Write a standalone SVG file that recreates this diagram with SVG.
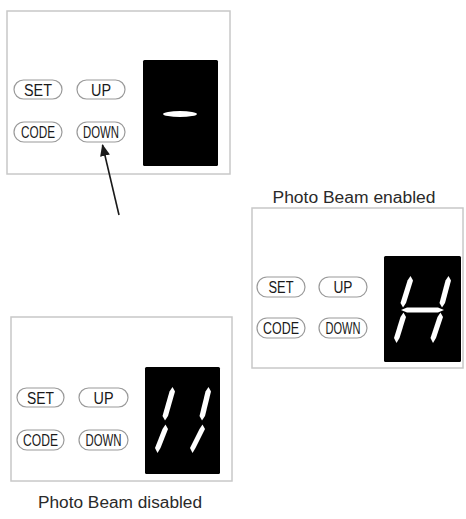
<svg xmlns="http://www.w3.org/2000/svg" width="466" height="519" viewBox="0 0 466 519">
<defs>
<style>
.panel{fill:#fff;stroke:#c8c8c8;stroke-width:1.5}
.lcd{fill:#000}
.btn{fill:#fff;stroke:#9a9a9a;stroke-width:1.2}
.bt{font-family:"Liberation Sans",Arial,sans-serif;font-size:16px;fill:#1a1a1a;text-anchor:middle}
.seg{fill:#fff}
.cap{font-family:"Liberation Sans",Arial,sans-serif;font-size:16px;fill:#2a2a2a;text-anchor:middle}
.conn{stroke:#1a1a1a;stroke-width:1.6;fill:none}
</style>
<marker id="ah" markerWidth="12" markerHeight="10" refX="11" refY="5" orient="auto" markerUnits="userSpaceOnUse">
<path d="M0,0 L12,5 L0,10 Z" fill="#1a1a1a"/>
</marker>
</defs>
<rect width="466" height="519" fill="#fff"/>

<g id="panel-top">
<rect class="panel" x="7" y="11" width="223" height="163"/>
<rect class="lcd" x="143" y="60" width="75" height="106" rx="1.5"/>
<ellipse class="seg" cx="180" cy="114" rx="17" ry="3"/>
<rect class="btn" x="14" y="80" width="48" height="19" rx="9.5"/>
<text class="bt" x="38" y="95.5" textLength="28" lengthAdjust="spacingAndGlyphs">SET</text>
<rect class="btn" x="77" y="80" width="48" height="19" rx="9.5"/>
<text class="bt" x="101" y="95.5" textLength="20" lengthAdjust="spacingAndGlyphs">UP</text>
<rect class="btn" x="14" y="122" width="48" height="20" rx="10"/>
<text class="bt" x="38" y="138" textLength="34" lengthAdjust="spacingAndGlyphs">CODE</text>
<rect class="btn" x="77" y="122" width="48" height="20" rx="10"/>
<text class="bt" x="101" y="138" textLength="36" lengthAdjust="spacingAndGlyphs">DOWN</text>
</g>

<g id="panel-enabled">
<text class="cap" x="354" y="203" textLength="163" lengthAdjust="spacingAndGlyphs">Photo Beam enabled</text>
<rect class="panel" x="252" y="208" width="211" height="160"/>
<rect class="lcd" x="384" y="256" width="77" height="106" rx="1.5"/>
<polygon class="seg" points="410.5,276 413,280.5 406,303 403,307.5 400.5,303 407.5,280.5"/>
<polygon class="seg" points="403.5,312.5 406,317 399.5,338 396.5,343 394,338 400.5,317"/>
<polygon class="seg" points="448.5,276 451,280.5 445,303 442,307.5 439.5,303 445.5,280.5"/>
<polygon class="seg" points="440.5,312.5 443,317 436,338 433,343 430.5,338 437.5,317"/>
<polygon class="seg" points="401,310 407,307.5 438,307.5 444,310 438,312.5 407,312.5"/>
<rect class="btn" x="257" y="277" width="48" height="20" rx="10"/>
<text class="bt" x="281" y="292.5" textLength="25" lengthAdjust="spacingAndGlyphs">SET</text>
<rect class="btn" x="319" y="277" width="48" height="20" rx="10"/>
<text class="bt" x="343" y="292.5" textLength="19" lengthAdjust="spacingAndGlyphs">UP</text>
<rect class="btn" x="257" y="318" width="48" height="20" rx="10"/>
<text class="bt" x="281" y="333.5" textLength="36" lengthAdjust="spacingAndGlyphs">CODE</text>
<rect class="btn" x="319" y="318" width="48" height="20" rx="10"/>
<text class="bt" x="343" y="333.5" textLength="35" lengthAdjust="spacingAndGlyphs">DOWN</text>
</g>

<g id="panel-disabled">
<rect class="panel" x="11" y="317" width="221" height="164"/>
<rect class="lcd" x="145" y="367" width="75" height="107" rx="1.5"/>
<polygon class="seg" points="172.5,387 175,391.5 168,416 165,420.5 162.5,416 169.5,391.5"/>
<polygon class="seg" points="165.5,424.5 168,429 160.5,448 157.5,453 155,448 162.5,429"/>
<polygon class="seg" points="208.5,387 211,391.5 205,416 202,420.5 199.5,416 205.5,391.5"/>
<polygon class="seg" points="202.5,424.5 205,429 195.5,448 192.5,453 190,448 199.5,429"/>
<rect class="btn" x="17" y="388" width="47" height="19" rx="9.5"/>
<text class="bt" x="40.5" y="403.5" textLength="27" lengthAdjust="spacingAndGlyphs">SET</text>
<rect class="btn" x="79" y="388" width="49" height="19" rx="9.5"/>
<text class="bt" x="103.5" y="403.5" textLength="20" lengthAdjust="spacingAndGlyphs">UP</text>
<rect class="btn" x="17" y="430" width="47" height="20" rx="10"/>
<text class="bt" x="40.5" y="446" textLength="35" lengthAdjust="spacingAndGlyphs">CODE</text>
<rect class="btn" x="79" y="430" width="49" height="20" rx="10"/>
<text class="bt" x="103.5" y="446" textLength="36" lengthAdjust="spacingAndGlyphs">DOWN</text>
<text class="cap" x="120" y="508" textLength="164" lengthAdjust="spacingAndGlyphs">Photo Beam disabled</text>
</g>

<g id="connectors">
<line class="conn" x1="119" y1="215" x2="102.5" y2="145" marker-end="url(#ah)"/>
</g>
</svg>
